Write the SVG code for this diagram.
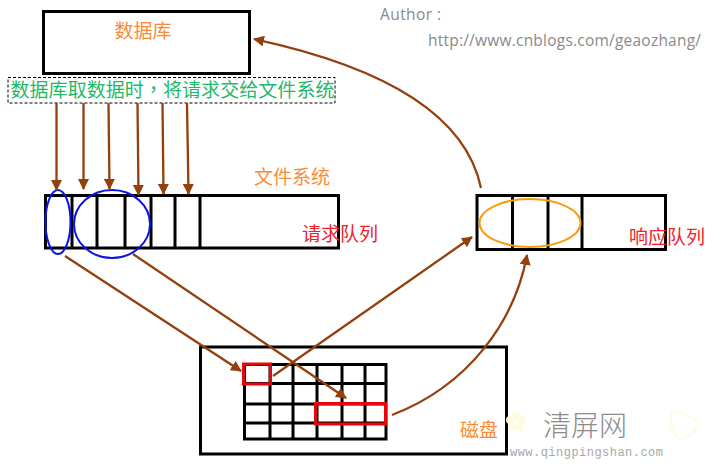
<svg xmlns="http://www.w3.org/2000/svg" width="710" height="469" viewBox="0 0 710 469">
<style>
.box{fill:none;stroke:#000;stroke-width:3}
.grid{fill:none;stroke:#000;stroke-width:3}
.red{fill:none;stroke:#e8060c;stroke-width:3}
.conn{fill:none;stroke:#93400c;stroke-width:2.300;marker-end:url(#ah)}
.cjk{font-family:"Noto Sans CJK SC","Liberation Sans",sans-serif}
.lat{font-family:"Open Sans","Liberation Sans",sans-serif;font-size:15.500px;fill:#8a8a8a}
.or{fill:#fb8b35;font-size:19px}
.rd{fill:#f0202c;font-size:19px}
</style>
<defs>
<marker id="ah" markerUnits="userSpaceOnUse" markerWidth="12" markerHeight="11" refX="10" refY="5.500" orient="auto"><path d="M0 0L11 5.500L0 11Z" fill="#93400c"/></marker>
</defs>
<rect width="710" height="469" fill="#fff"/>
<g id="database"><rect class="box" x="43.500" y="11.500" width="206" height="62"/><text class="cjk or" x="143" y="38" text-anchor="middle">数据库</text></g>
<g id="note"><rect x="8" y="77.500" width="327" height="25.500" fill="#fff" stroke="#000" stroke-width="1" stroke-dasharray="3 2"/><text class="cjk" x="10.500" y="96.500" font-size="19" fill="#1fb866" textLength="324">数据库取数据时<tspan font-family="Noto Sans CJK TC">，</tspan>将请求交给文件系统</text></g>
<g id="author"><text class="lat" x="380" y="20" textLength="61">Author :</text><text class="lat" x="428" y="46" textLength="273">http://www.cnblogs.com/geaozhang/</text></g>
<g id="request-queue"><rect class="box" x="45.500" y="195.500" width="293" height="52.500"/><path class="grid" d="M72 195V248M97 195V248M125 195V248M151 195V248M175 195V248M200 195V248"/>
<ellipse cx="58" cy="222" rx="12.500" ry="32" fill="none" stroke="#0a14e6" stroke-width="2"/><ellipse cx="112" cy="224" rx="38" ry="34" fill="none" stroke="#0a14e6" stroke-width="2"/>
<text class="cjk" x="292" y="184" font-size="19" fill="#fb8b35" text-anchor="middle">文件系统</text><text class="cjk rd" x="340" y="241" text-anchor="middle">请求队列</text></g>
<g id="response-queue"><rect class="box" x="477" y="195.500" width="188.500" height="54"/><path class="grid" d="M512.500 195V249M548 195V249M582 195V249"/>
<ellipse cx="530" cy="223" rx="50.500" ry="24" fill="none" stroke="#f99d0e" stroke-width="2"/><text class="cjk rd" x="667" y="244" text-anchor="middle">响应队列</text></g>
<g id="disk"><rect class="box" x="200.500" y="347" width="306" height="107"/><path class="grid" d="M244.500 364.500H386V439H244.500ZM270 364V439M293 364V439M317 364V439M342 364V439M365 364V439M244 383.500H386M244 404H386M244 423H386"/>
<rect class="red" x="243.500" y="364" width="27" height="20"/><rect class="red" x="315.500" y="403.500" width="70" height="20.500"/><text class="cjk or" x="479" y="437" text-anchor="middle">磁盘</text></g>
<g id="connectors">
<path class="conn" d="M56.500 103V190"/><path class="conn" d="M83.500 103V189"/><path class="conn" d="M108.500 103L109.500 189"/><path class="conn" d="M137.500 103L138.500 195"/><path class="conn" d="M162.500 103L163.500 194"/><path class="conn" d="M187 103L188.500 194"/>
<path class="conn" d="M65 256L241 371"/><path class="conn" d="M133 254L346 398"/><path class="conn" d="M273 376L472 237"/>
<path class="conn" d="M392 415C470 385 515 320 527 255"/><path class="conn" d="M481 188C465 110 375 65 254 39"/>
</g>
<g id="watermark"><g fill="#fdfbe0"><circle cx="516" cy="415" r="4"/><circle cx="522" cy="420" r="4"/><circle cx="519" cy="427" r="4"/><circle cx="512" cy="427" r="4"/><circle cx="510" cy="420" r="4"/></g><path d="M672 412C682 408 690 420 698 420C702 428 685 440 680 439C674 436 668 420 672 412Z" fill="none" stroke="#fdfbe0" stroke-width="2"/>
<text class="cjk" x="585" y="436" font-size="28" fill="#8c8c8c" text-anchor="middle" font-weight="300" textLength="84">清屏网</text><text x="510" y="456" font-family="Liberation Mono,monospace" font-size="12" fill="#a8a8a8" textLength="153">www.qingpingshan.com</text></g>
</svg>
